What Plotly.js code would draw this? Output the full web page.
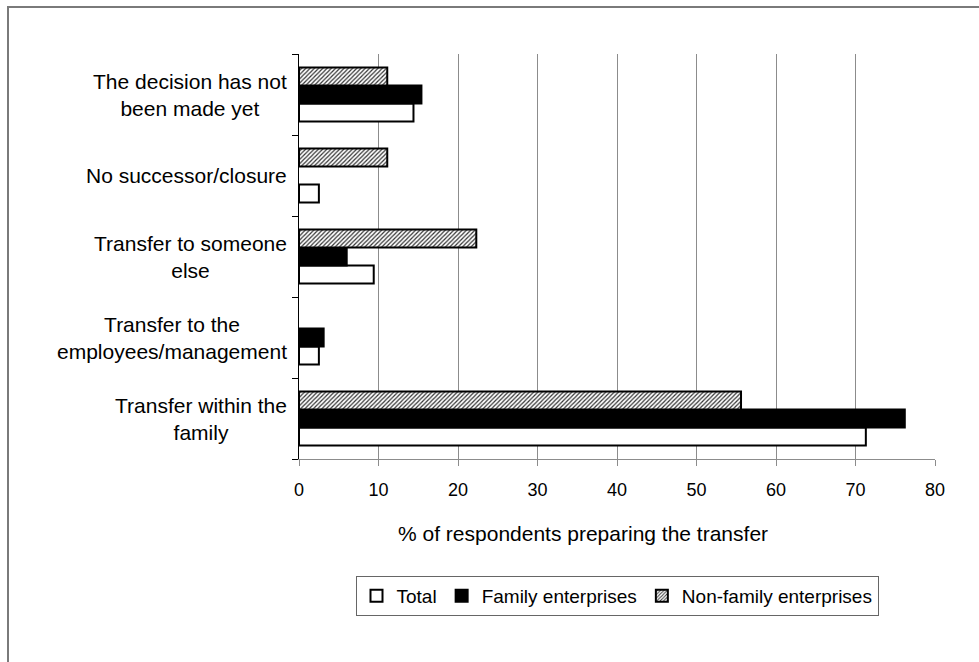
<!DOCTYPE html>
<html>
<head>
<meta charset="utf-8">
<script src="https://cdn.plot.ly/plotly-3.0.1.min.js"></script>
<style>
html, body { margin: 0; padding: 0; background: #fff; }
#chart { width: 979px; height: 662px; }
</style>
</head>
<body>
<div id="chart"></div>
<script>
// Categories, bottom to top
const categories = [
  "Transfer within the family",
  "Transfer to the employees/management",
  "Transfer to someone else",
  "No successor/closure",
  "The decision has not been made yet"
];
const categoryLabels = [
  "Transfer within the<br>family",
  "Transfer to the<br>employees/management",
  "Transfer to someone<br>else",
  "No successor/closure",
  "The decision has not<br>been made yet"
];
const seriesNames = ["Total", "Family enterprises", "Non-family enterprises"];
const totalValues = [71.3, 2.5, 9.4, 2.5, 14.4];
const familyValues = [76.2, 3.1, 6.0, 0, 15.4];
const nonFamilyValues = [55.6, 0, 22.3, 11.1, 11.1];
const xTickValues = [0, 10, 20, 30, 40, 50, 60, 70, 80];
const xAxisTitle = "% of respondents preparing the transfer";

const FONT = "Liberation Sans, Arial, sans-serif";
const outlineWidths = vals => vals.map(v => (v > 0 ? 2 : 0));

const traces = [
  {
    type: "bar", orientation: "h", name: seriesNames[0],
    y: categories, x: totalValues,
    marker: { color: "#ffffff", line: { color: "#000000", width: outlineWidths(totalValues) } }
  },
  {
    type: "bar", orientation: "h", name: seriesNames[1],
    y: categories, x: familyValues,
    marker: { color: "#000000", line: { color: "#000000", width: outlineWidths(familyValues) } }
  },
  {
    type: "bar", orientation: "h", name: seriesNames[2],
    y: categories, x: nonFamilyValues,
    marker: {
      color: "#ffffff",
      line: { color: "#000000", width: outlineWidths(nonFamilyValues) },
      pattern: { shape: "/", fgcolor: "#333333", bgcolor: "#ffffff", size: 3, solidity: 0.4 }
    }
  }
];

const PLOT_L = 299, PLOT_R = 935, PLOT_T = 54, PLOT_B = 459;
const W = 979, H = 662;
const pw = PLOT_R - PLOT_L, ph = PLOT_B - PLOT_T;
const px = v => (v - PLOT_L) / pw;
const py = v => (PLOT_B - v) / ph;

const annotations = categories.map((c, i) => ({
  xref: "paper", yref: "y", x: px(289), y: c,
  xanchor: "right", yanchor: "middle", align: "center",
  text: categoryLabels[i], showarrow: false,
  font: { family: FONT, size: 21, color: "#000" }
}));
annotations.push({
  xref: "paper", yref: "paper", x: px(583), y: py(533),
  xanchor: "center", yanchor: "middle",
  text: xAxisTitle, showarrow: false,
  font: { family: FONT, size: 21, color: "#000" }
});

const layout = {
  width: W, height: H,
  margin: { l: PLOT_L, r: W - PLOT_R, t: PLOT_T, b: H - PLOT_B, pad: 0 },
  paper_bgcolor: "#ffffff", plot_bgcolor: "#ffffff",
  barmode: "group", bargap: 0.333, bargroupgap: 0,
  font: { family: FONT, color: "#000" },
  showlegend: true,
  legend: {
    orientation: "h", x: 0.5, xanchor: "center", y: py(576), yanchor: "top",
    bordercolor: "#666666", borderwidth: 1, bgcolor: "#ffffff",
    font: { family: FONT, size: 19, color: "#000" },
    traceorder: "normal", itemwidth: 30
  },
  xaxis: {
    range: [0, 80], tickvals: xTickValues, ticktext: xTickValues.map(String),
    showgrid: true, gridcolor: "#8c8c8c", gridwidth: 1,
    zeroline: false, showline: true, linecolor: "#8c8c8c", linewidth: 1,
    ticks: "outside", ticklen: 6, tickcolor: "#8c8c8c",
    ticklabelstandoff: 8,
    tickfont: { family: FONT, size: 18, color: "#000" },
    fixedrange: true
  },
  yaxis: {
    type: "category", categoryorder: "array", categoryarray: categories,
    showticklabels: false, tickson: "boundaries",
    ticks: "outside", ticklen: 6, tickcolor: "#000",
    showline: true, linecolor: "#000", linewidth: 1,
    showgrid: false, zeroline: false, fixedrange: true
  },
  annotations: annotations,
  shapes: [
    { type: "rect", xref: "paper", yref: "paper", layer: "below",
      x0: px(8), x1: px(1100), y0: py(7), y1: py(800),
      line: { color: "#7a7a7a", width: 2 }, fillcolor: "rgba(0,0,0,0)" }
  ]
};

Plotly.newPlot("chart", traces, layout, { displayModeBar: false, staticPlot: true });
</script>
</body>
</html>
